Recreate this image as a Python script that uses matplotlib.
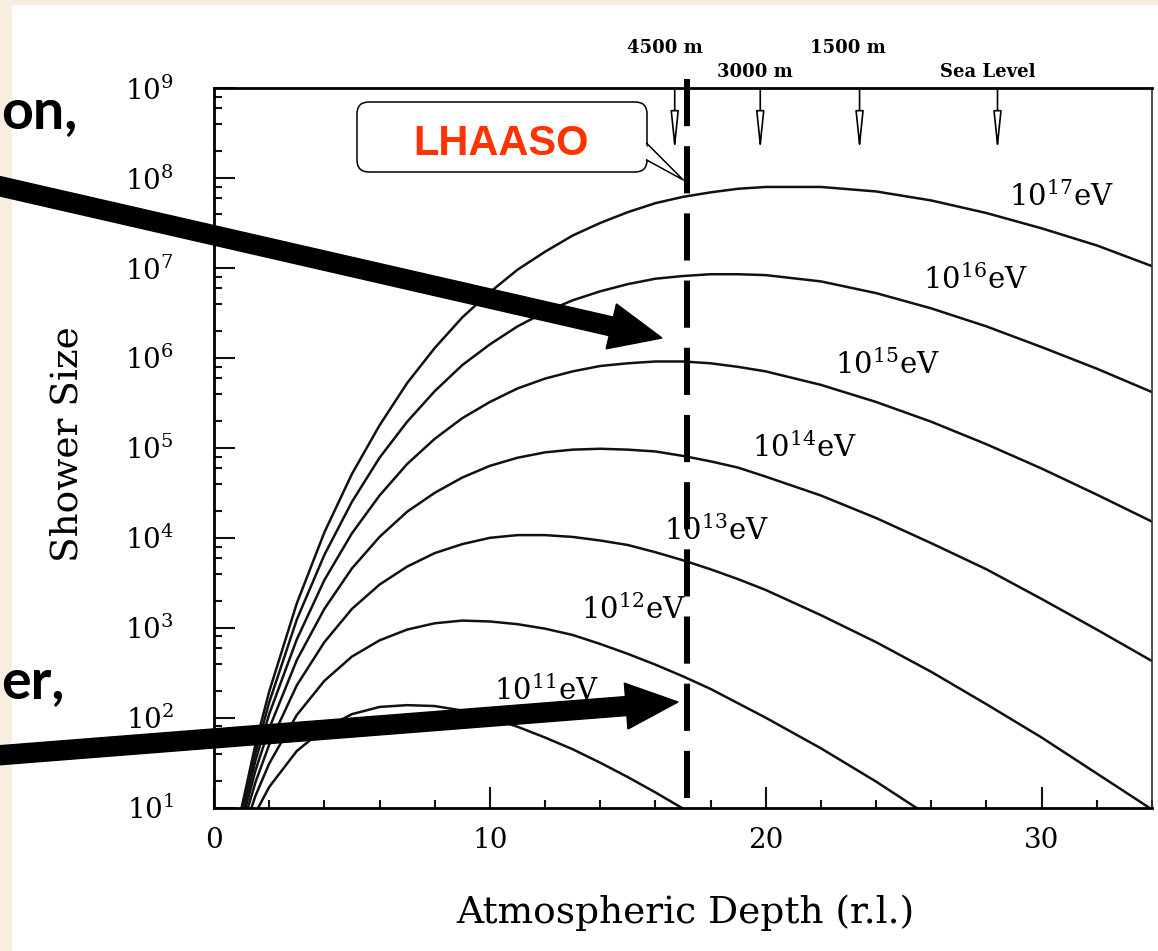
import numpy as np
import matplotlib
matplotlib.use('Agg')
import matplotlib.pyplot as plt
from matplotlib import patches, transforms
from matplotlib.lines import Line2D
from matplotlib.ticker import LogLocator, MultipleLocator

# canvas size in pixels (dpi 100)
W, H = 1158, 951

nan = np.nan

# atmospheric depth (radiation lengths) where the curves were read
depth = [1, 1.5, 2, 3, 4, 5, 6, 7, 8, 9, 10, 11, 12, 13, 14, 15, 16, 17, 18, 19, 20,
         22, 24, 26, 28, 30, 32, 34]

# log10 of the shower size for each primary energy
size_1e17 = [1.00, 1.70, 2.29, 3.27, 4.06, 4.71, 5.25, 5.72, 6.11, 6.45, 6.73, 6.98, 7.18, 7.36,
             7.50, 7.62, 7.72, 7.79, 7.84, 7.88, 7.90, 7.90, 7.85, 7.75, 7.61, 7.44, 7.25, 7.02]
size_1e16 = [0.95, 1.61, 2.17, 3.09, 3.81, 4.40, 4.89, 5.29, 5.63, 5.92, 6.15, 6.35, 6.51, 6.64,
             6.74, 6.82, 6.88, 6.91, 6.93, 6.93, 6.92, 6.85, 6.72, 6.55, 6.35, 6.12, 5.88, 5.62]
size_1e15 = [0.89, 1.52, 2.04, 2.87, 3.53, 4.05, 4.47, 4.82, 5.10, 5.33, 5.51, 5.66, 5.77, 5.85,
             5.91, 5.94, 5.96, 5.96, 5.94, 5.90, 5.85, 5.70, 5.51, 5.29, 5.04, 4.77, 4.48, 4.18]
size_1e14 = [0.83, 1.41, 1.88, 2.64, 3.21, 3.66, 4.01, 4.29, 4.50, 4.67, 4.80, 4.89, 4.95, 4.98,
             4.99, 4.98, 4.96, 4.91, 4.85, 4.78, 4.68, 4.47, 4.22, 3.94, 3.65, 3.32, 2.98, 2.63]
size_1e13 = [0.76, 1.28, 1.70, 2.36, 2.84, 3.21, 3.48, 3.68, 3.83, 3.93, 4.00, 4.03, 4.03, 4.01,
             3.97, 3.92, 3.84, 3.75, 3.65, 3.54, 3.42, 3.14, 2.84, 2.51, 2.15, 1.78, 1.38, 0.98]
size_1e12 = [0.67, 1.13, 1.49, 2.03, 2.41, 2.68, 2.86, 2.98, 3.05, 3.08, 3.07, 3.04, 2.99, 2.92,
             2.82, 2.71, 2.59, 2.46, 2.32, 2.16, 2.00, 1.66, 1.29, 0.89, 0.48, nan, nan, nan]
size_1e11 = [0.56, 0.94, 1.23, 1.63, 1.88, 2.04, 2.12, 2.14, 2.13, 2.08, 2.00, 1.90, 1.78, 1.65,
             1.50, 1.34, 1.17, 0.99, 0.81, 0.61, 0.41, nan, nan, nan, nan, nan, nan, nan]

curve_sizes = [size_1e17, size_1e16, size_1e15, size_1e14, size_1e13, size_1e12, size_1e11]
curve_labels = [r'10$^{17}$eV', r'10$^{16}$eV', r'10$^{15}$eV', r'10$^{14}$eV',
                r'10$^{13}$eV', r'10$^{12}$eV', r'10$^{11}$eV']

# altitude markers along the top axis
altitude_depth = [16.7, 19.8, 23.4, 28.4]
altitude_names = ['4500 m', '3000 m', '1500 m', 'Sea Level']

# LHAASO observation depth
lhaaso_depth = 17.13

plt.rcParams['font.family'] = ['DejaVu Serif']
plt.rcParams['mathtext.fontset'] = 'dejavuserif'


def inch(x, y):
    """pixel position (from top left) -> inches for fig.dpi_scale_trans"""
    return x / 100.0, (H - y) / 100.0


fig = plt.figure(figsize=(W / 100, H / 100), dpi=100, facecolor='#f6eedf')

# white slide panel
fig.add_artist(patches.Rectangle(inch(12, H), (W - 12) / 100, (H - 5) / 100,
                                 transform=fig.dpi_scale_trans, fc='white', ec='none', zorder=-5))

ax = fig.add_axes([214 / W, 1 - 807.7 / H, (1152 - 214) / W, (807.7 - 88) / H])

# shower curves
for sizes in curve_sizes:
    ax.plot(depth, 10 ** np.array(sizes), color='#111111', lw=1.8)

ax.set_yscale('log')
ax.set_xlim(0, 34)
ax.set_ylim(10, 1e9)

ax.xaxis.set_major_locator(MultipleLocator(10))
ax.xaxis.set_minor_locator(MultipleLocator(2))
ax.yaxis.set_major_locator(LogLocator(base=10, numticks=20))
ax.yaxis.set_minor_locator(LogLocator(base=10, subs=[2, 4, 6, 8], numticks=20))
ax.tick_params(which='both', direction='in', top=False, right=False, width=1.5, color='#111111')
ax.tick_params(which='major', length=15, labelsize=20)
ax.tick_params(axis='y', which='major', pad=29)
ax.tick_params(axis='x', which='major', pad=14)
ax.tick_params(which='minor', length=6)

for side in ['left', 'bottom', 'top']:
    ax.spines[side].set_linewidth(2.0)
ax.spines['right'].set_linewidth(1.2)
ax.spines['right'].set_color('#333333')

# energy labels next to the curves (positions in data units)
label_pos = [(30.7, 6.2e7), (27.6, 7.4e6), (24.4, 8.3e5), (21.4, 1.0e5),
             (18.2, 1.2e4), (15.2, 1.6e3), (12.05, 2.0e2)]
for (lx, ly), text in zip(label_pos, curve_labels):
    ax.text(lx, ly, text, ha='center', va='center', fontsize=21, zorder=6)

# dashed LHAASO line (x in data, y in axes)
blend = transforms.blended_transform_factory(ax.transData, ax.transAxes)
ax.plot([lhaaso_depth, lhaaso_depth], [1.013, 0.011], transform=blend, color='black',
        lw=4.3, linestyle=(0, (7.9, 3.35)), clip_on=False, zorder=5)

# altitude arrows and names
for xd in altitude_depth:
    ax.annotate('', xy=(xd, 0.911), xytext=(xd, 1.0), xycoords=blend, textcoords=blend,
                arrowprops=dict(arrowstyle='-|>,head_length=2.4,head_width=0.25',
                                fc='white', ec='black', lw=1.2, shrinkA=0, shrinkB=0))
name_pix = [(665, 48), (755, 72), (848, 48), (988, 72)]
for (nx, ny), name in zip(name_pix, altitude_names):
    fig.text(nx / W, 1 - ny / H, name, ha='center', va='center', fontsize=13, fontweight='bold')

# axis titles
fig.text(685 / W, 1 - 913 / H, 'Atmospheric Depth (r.l.)', ha='center', va='center', fontsize=27)
fig.text(67 / W, 1 - 444 / H, 'Shower Size', ha='center', va='center', fontsize=27, rotation=90)

# LHAASO callout
fig.add_artist(patches.FancyBboxPatch(inch(357, 172), 2.90, 0.70,
                                      boxstyle='round,pad=0,rounding_size=0.12',
                                      transform=fig.dpi_scale_trans, fc='white', ec='black',
                                      lw=1.1, zorder=12))
fig.add_artist(patches.Polygon([inch(645, 144.5), inch(683.3, 180), inch(645, 158.5)],
                               closed=True, transform=fig.dpi_scale_trans, fc='white',
                               ec='none', zorder=13))
fig.add_artist(Line2D([646.7 / 100, 683.3 / 100, 646.7 / 100],
                      [(H - 143.3) / 100, (H - 180) / 100, (H - 160) / 100],
                      transform=fig.dpi_scale_trans, color='black', lw=1.1, zorder=14))
fig.text(500.7 / W, 1 - 155 / H, 'LHAASO', ha='center', va='baseline', fontsize=30,
         fontweight='bold', color='#ff3300', family=['Liberation Sans', 'DejaVu Sans'], zorder=15)

# thick pointer arrows of the slide
for (sx, sy), (tx, ty) in [((-10, 184), (662, 338)), ((-10, 756), (678, 702))]:
    x0, y0 = inch(sx, sy)
    x1, y1 = inch(tx, ty)
    fig.add_artist(patches.FancyArrow(x0, y0, x1 - x0, y1 - y0, width=0.19, head_width=0.46,
                                      head_length=0.52, length_includes_head=True,
                                      transform=fig.dpi_scale_trans, color='black', zorder=20))

# slide text running in from the left edge
fig.text(1 / W, 1 - 128 / H, 'on,', ha='left', va='baseline', fontsize=40,
         fontweight='bold', family=['Lato', 'DejaVu Sans'])
fig.text(1 / W, 1 - 698 / H, 'er,', ha='left', va='baseline', fontsize=40,
         fontweight='bold', family=['Lato', 'DejaVu Sans'])

fig.savefig('out.png', dpi=100, facecolor=fig.get_facecolor())
